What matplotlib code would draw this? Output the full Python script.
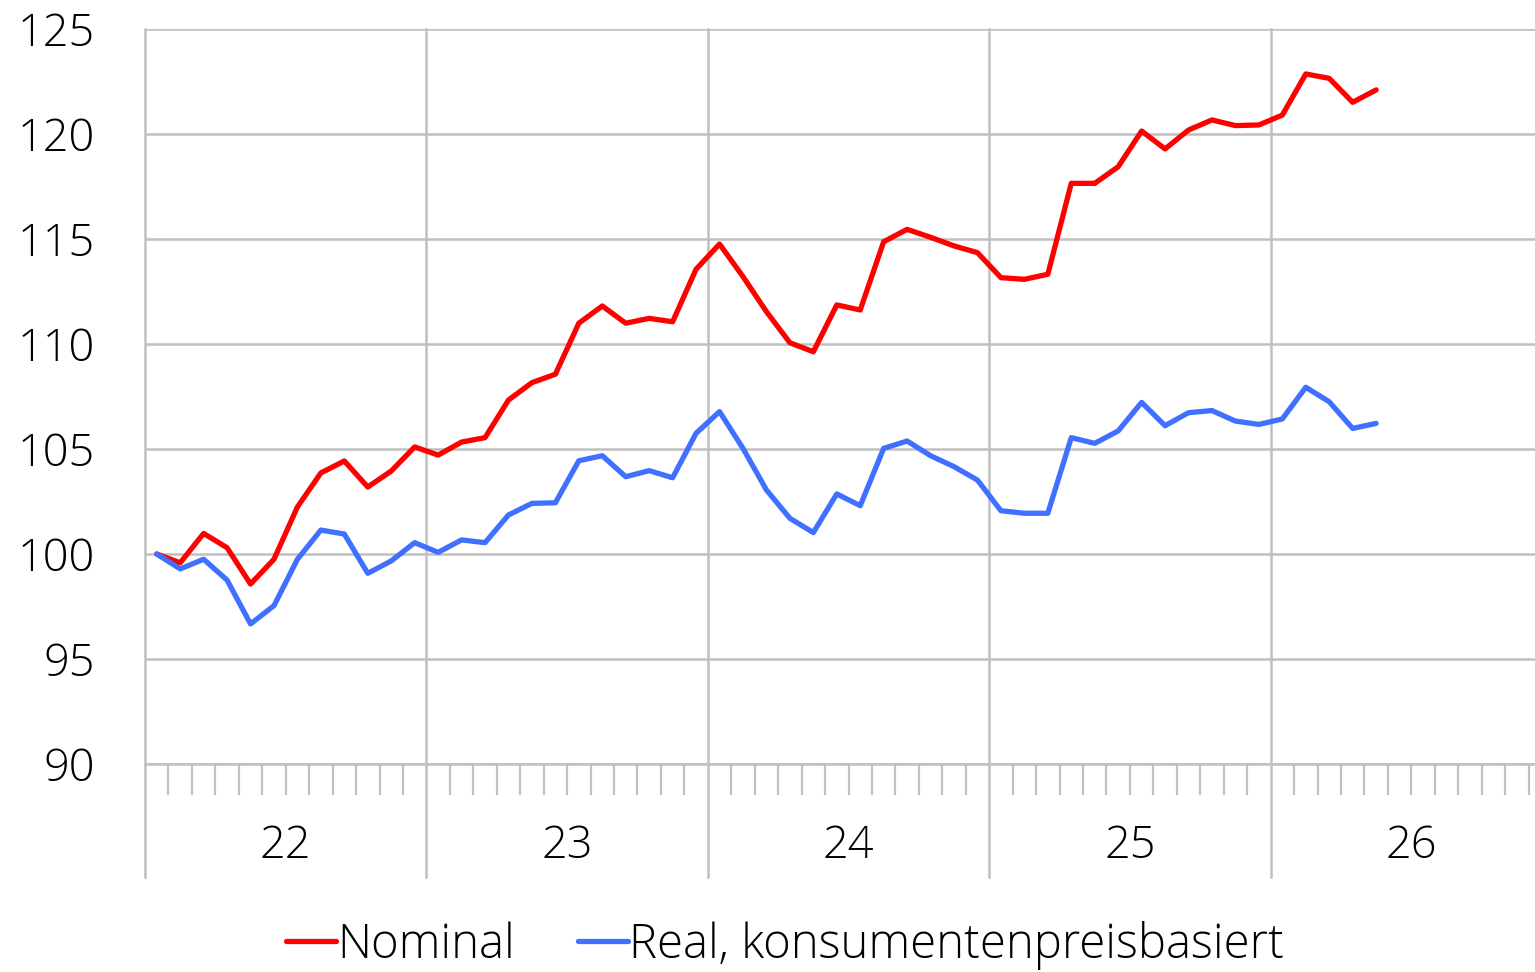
import matplotlib
matplotlib.use("Agg")
import matplotlib.pyplot as plt
import matplotlib.transforms as mtransforms
import numpy as np

plt.rcParams["font.family"] = ["Open Sans", "DejaVu Sans"]
plt.rcParams["font.weight"] = "light"

# Monthly index values, Jan 2022 = 100
nominal = [
    100.0, 99.58, 100.98, 100.30, 98.57, 99.75, 102.24, 103.86, 104.43, 103.19, 103.95, 105.10,
    104.71, 105.33, 105.54, 107.33, 108.16, 108.56, 110.99, 111.81, 110.99, 111.22, 111.06, 113.56,
    114.76, 113.21, 111.54, 110.06, 109.63, 111.86, 111.62, 114.87, 115.46, 115.08, 114.67, 114.35,
    113.16, 113.08, 113.32, 117.65, 117.65, 118.44, 120.14, 119.29, 120.19, 120.67, 120.40, 120.43,
    120.90, 122.86, 122.65, 121.51, 122.10,
]
real = [
    100.0, 99.29, 99.75, 98.76, 96.67, 97.54, 99.75, 101.14, 100.95, 99.08, 99.67, 100.54,
    100.08, 100.67, 100.54, 101.86, 102.41, 102.44, 104.44, 104.68, 103.68, 103.97, 103.63, 105.75,
    106.78, 105.03, 103.05, 101.70, 101.02, 102.86, 102.30, 105.03, 105.38, 104.68, 104.16, 103.52,
    102.06, 101.94, 101.94, 105.54, 105.27, 105.86, 107.22, 106.11, 106.73, 106.83, 106.33, 106.17,
    106.43, 107.94, 107.25, 105.98, 106.22,
]
years = ["22", "23", "24", "25", "26"]
y_ticks = [90, 95, 100, 105, 110, 115, 120, 125]

GRID = "#c0c0c0"
RED = "#ff0000"
BLUE = "#4070ff"

fig = plt.figure(figsize=(15.35, 9.72), dpi=100)
ax = fig.add_axes([145 / 1535, 1 - 764 / 972, 1 - 145 / 1535, (764 - 29) / 972])

# one unit per month, points sit in the middle of each month
x = np.arange(len(nominal)) + 0.5
ax.plot(x, nominal, color=RED, lw=3.8, solid_joinstyle="round", solid_capstyle="round",
        label="Nominal", zorder=3)
ax.plot(x, real, color=BLUE, lw=3.8, solid_joinstyle="round", solid_capstyle="round",
        label="Real, konsumentenpreisbasiert", zorder=3)

ax.set_xlim(0, (1535 - 145) / 23.45)
ax.set_ylim(90, 125)

ax.set_yticks(y_ticks)
ax.set_yticklabels([str(v) for v in y_ticks], fontsize=32.5)
ax.tick_params(axis="y", length=0, pad=36)
ax.grid(axis="y", color=GRID, lw=1.8)

# month ticks below the axis, year lines running further down
ax.set_xticks(np.arange(0, 12 * len(years), 12))
ax.set_xticklabels([])
ax.set_xticks(np.arange(0, 12 * len(years)), minor=True)
ax.tick_params(axis="x", which="major", length=0)
ax.tick_params(axis="x", which="minor", length=22, width=1.6, color=GRID, direction="out")
for k in range(len(years)):
    ax.axvline(12 * k, ymin=-0.154, ymax=1, color=GRID, lw=1.8, clip_on=False, zorder=1)

trans = mtransforms.blended_transform_factory(ax.transData, ax.transAxes)
for k, lab in enumerate(years):
    ax.text(12 * k + 6, -0.112, lab, transform=trans, ha="center", va="center", fontsize=32.5)

for side in ("top", "right", "left"):
    ax.spines[side].set_visible(False)
ax.spines["bottom"].set_color(GRID)
ax.spines["bottom"].set_linewidth(1.8)

fig.legend(loc="center", bbox_to_anchor=(785 / 1535, 1 - 945 / 972), ncol=2, frameon=False,
           fontsize=34, handlelength=1.05, handletextpad=0.02, columnspacing=1.35)

fig.savefig("out.png", dpi=100)
